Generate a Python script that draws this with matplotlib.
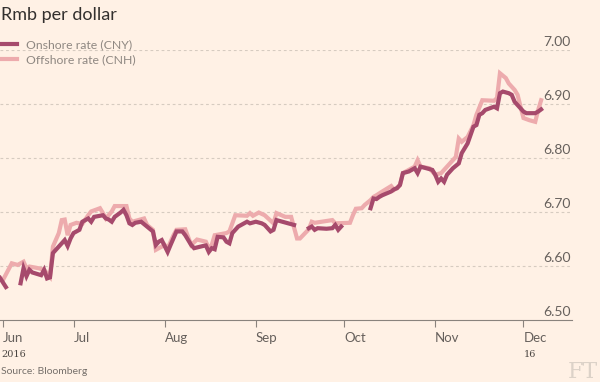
import numpy as np
import pandas as pd
import matplotlib
matplotlib.use("Agg")
import matplotlib.pyplot as plt
import matplotlib.transforms as mtransforms

nan = np.nan

cny_dates = [
    "2016-06-06", "2016-06-08", "2016-06-10", "2016-06-13", "2016-06-14", "2016-06-15",
    "2016-06-16", "2016-06-17", "2016-06-20", "2016-06-21", "2016-06-22", "2016-06-23",
    "2016-06-24", "2016-06-27", "2016-06-28", "2016-06-29", "2016-06-30", "2016-07-01",
    "2016-07-03", "2016-07-04", "2016-07-06", "2016-07-07", "2016-07-08", "2016-07-11",
    "2016-07-12", "2016-07-13", "2016-07-14", "2016-07-15", "2016-07-17", "2016-07-18",
    "2016-07-19", "2016-07-20", "2016-07-21", "2016-07-22", "2016-07-24", "2016-07-26",
    "2016-07-28", "2016-07-29", "2016-07-30", "2016-07-31", "2016-08-02", "2016-08-03",
    "2016-08-05", "2016-08-07", "2016-08-08", "2016-08-10", "2016-08-11", "2016-08-14",
    "2016-08-15", "2016-08-16", "2016-08-17", "2016-08-18", "2016-08-19", "2016-08-21",
    "2016-08-22", "2016-08-23", "2016-08-24", "2016-08-26", "2016-08-29", "2016-08-30",
    "2016-09-01", "2016-09-03", "2016-09-04", "2016-09-06", "2016-09-07", "2016-09-08",
    "2016-09-10", "2016-09-12", "2016-09-14", "2016-09-16", "2016-09-19", "2016-09-20",
    "2016-09-21", "2016-09-22", "2016-09-25", "2016-09-27", "2016-09-28", "2016-09-29",
    "2016-09-30", "2016-10-05", "2016-10-10", "2016-10-11", "2016-10-12", "2016-10-13",
    "2016-10-14", "2016-10-17", "2016-10-18", "2016-10-19", "2016-10-20", "2016-10-21",
    "2016-10-23", "2016-10-25", "2016-10-26", "2016-10-27", "2016-10-29", "2016-10-31",
    "2016-11-01", "2016-11-02", "2016-11-03", "2016-11-04", "2016-11-05", "2016-11-07",
    "2016-11-09", "2016-11-10", "2016-11-12", "2016-11-14", "2016-11-15", "2016-11-16",
    "2016-11-17", "2016-11-18", "2016-11-21", "2016-11-22", "2016-11-23", "2016-11-24",
    "2016-11-26", "2016-11-27", "2016-11-28", "2016-11-30", "2016-12-01", "2016-12-02",
    "2016-12-05", "2016-12-06", "2016-12-07",
]
cny_rate = [
    6.578, 6.561, nan, 6.568, 6.596, 6.581,
    6.593, 6.588, 6.583, 6.593, 6.577, 6.579,
    6.624, 6.642, 6.648, 6.637, 6.651, 6.661,
    6.667, 6.682, 6.688, 6.682, 6.691, 6.694,
    6.688, 6.686, 6.682, 6.691, 6.699, 6.704,
    6.694, 6.679, 6.676, 6.680, 6.682, 6.673,
    6.664, 6.639, 6.645, 6.648, 6.626, 6.639,
    6.664, 6.664, 6.657, 6.639, 6.633, 6.637,
    6.638, 6.626, 6.633, 6.631, 6.654, 6.653,
    6.645, 6.642, 6.661, 6.673, 6.682, 6.679,
    6.682, 6.679, 6.676, 6.664, 6.667, 6.685,
    6.682, 6.679, 6.676, nan, 6.670, 6.673,
    6.667, 6.670, 6.669, 6.670, 6.676, 6.667,
    6.673, nan, 6.707, 6.725, 6.724, 6.728,
    6.731, 6.738, 6.742, 6.744, 6.750, 6.772,
    6.775, 6.781, 6.772, 6.784, 6.781, 6.778,
    6.769, 6.756, 6.762, 6.756, 6.769, 6.781,
    6.790, 6.809, 6.827, 6.858, 6.861, 6.880,
    6.883, 6.889, 6.895, 6.892, 6.920, 6.923,
    6.920, 6.917, 6.904, 6.892, 6.886, 6.883,
    6.883, 6.886, 6.890,
]

cnh_dates = [
    "2016-06-06", "2016-06-07", "2016-06-10", "2016-06-12", "2016-06-14", "2016-06-15",
    "2016-06-16", "2016-06-19", "2016-06-21", "2016-06-23", "2016-06-24", "2016-06-26",
    "2016-06-27", "2016-06-28", "2016-06-29", "2016-06-30", "2016-07-02", "2016-07-04",
    "2016-07-06", "2016-07-07", "2016-07-10", "2016-07-11", "2016-07-12", "2016-07-14",
    "2016-07-15", "2016-07-19", "2016-07-20", "2016-07-21", "2016-07-25", "2016-07-26",
    "2016-07-28", "2016-07-29", "2016-08-01", "2016-08-02", "2016-08-04", "2016-08-05",
    "2016-08-08", "2016-08-10", "2016-08-12", "2016-08-15", "2016-08-16", "2016-08-17",
    "2016-08-18", "2016-08-22", "2016-08-23", "2016-08-24", "2016-08-25", "2016-08-29",
    "2016-08-30", "2016-08-31", "2016-09-02", "2016-09-04", "2016-09-07", "2016-09-08",
    "2016-09-11", "2016-09-13", "2016-09-15", "2016-09-16", "2016-09-19", "2016-09-20",
    "2016-09-21", "2016-09-27", "2016-09-28", "2016-10-03", "2016-10-04", "2016-10-05",
    "2016-10-07", "2016-10-08", "2016-10-10", "2016-10-11", "2016-10-12", "2016-10-14",
    "2016-10-17", "2016-10-18", "2016-10-19", "2016-10-20", "2016-10-21", "2016-10-23",
    "2016-10-25", "2016-10-26", "2016-10-27", "2016-10-30", "2016-10-31", "2016-11-01",
    "2016-11-03", "2016-11-04", "2016-11-07", "2016-11-08", "2016-11-09", "2016-11-10",
    "2016-11-12", "2016-11-14", "2016-11-15", "2016-11-17", "2016-11-21", "2016-11-22",
    "2016-11-23", "2016-11-25", "2016-11-26", "2016-11-28", "2016-11-29", "2016-11-30",
    "2016-12-01", "2016-12-03", "2016-12-05", "2016-12-06", "2016-12-07",
]
cnh_rate = [
    6.577, 6.574, 6.605, 6.602, 6.608, 6.596,
    6.599, 6.596, 6.593, 6.580, 6.636, 6.661,
    6.685, 6.686, 6.657, 6.676, 6.680, 6.678,
    6.694, 6.701, 6.707, 6.698, 6.688, 6.701,
    6.711, 6.711, 6.688, 6.682, 6.688, 6.676,
    6.667, 6.630, 6.639, 6.633, 6.657, 6.667,
    6.668, 6.639, 6.649, 6.645, 6.633, 6.639,
    6.657, 6.661, 6.664, 6.679, 6.694, 6.693,
    6.698, 6.693, 6.699, 6.694, 6.679, 6.698,
    6.691, 6.691, 6.651, 6.651, 6.668, 6.682,
    6.680, 6.685, 6.679, 6.680, 6.694, 6.706,
    6.707, 6.713, 6.722, 6.728, 6.731, 6.738,
    6.748, 6.741, 6.745, 6.750, 6.772, 6.778,
    6.784, 6.796, 6.784, 6.781, 6.775, 6.769,
    6.772, 6.778, 6.796, 6.802, 6.836, 6.830,
    6.839, 6.861, 6.880, 6.907, 6.906, 6.911,
    6.957, 6.948, 6.938, 6.926, 6.917, 6.895,
    6.874, 6.870, 6.867, 6.889, 6.907,
]

tick_dates = ["2016-06-07", "2016-07-01", "2016-08-01", "2016-09-01",
              "2016-10-01", "2016-11-01", "2016-12-01"]
tick_labels = ["Jun", "Jul", "Aug", "Sep", "Oct", "Nov", "Dec"]
y_ticks = [6.50, 6.60, 6.70, 6.80, 6.90, 7.00]

bg = "#fff1e5"
dark = "#a64a6c"
light = "#edabad"
grey = "#66605c"

plt.rcParams["font.family"] = ["Lato", "DejaVu Sans"]

fig = plt.figure(figsize=(6, 3.82), dpi=100, facecolor=bg)
ax = fig.add_axes([0.0, 1 - 320 / 382, 572 / 600, 270 / 382])
ax.set_facecolor(bg)

cny = pd.Series(cny_rate, index=pd.to_datetime(cny_dates))
cnh = pd.Series(cnh_rate, index=pd.to_datetime(cnh_dates))

ax.plot(cnh.index, cnh.values, color=light, lw=3.0, solid_joinstyle="miter",
        label="Offshore rate (CNH)", zorder=3)
ax.plot(cny.index, cny.values, color=dark, lw=3.0, solid_joinstyle="miter",
        label="Onshore rate (CNY)", zorder=4)

ax.set_xlim(pd.Timestamp("2016-06-06"), pd.Timestamp("2016-12-17 12:00"))
ax.set_ylim(6.50, 7.00)

for s in ["top", "right", "left"]:
    ax.spines[s].set_visible(False)
ax.spines["bottom"].set_color("#8a837d")
ax.spines["bottom"].set_linewidth(0.8)

ax.set_yticks(y_ticks)
ax.tick_params(axis="y", left=False, labelleft=False)
for v in y_ticks[1:]:
    ax.axhline(v, color="#d6cbc0", lw=0.8, ls=(0, (2.5, 2.5)), zorder=1)
ytrans = mtransforms.blended_transform_factory(ax.transAxes, ax.transData)
for v in y_ticks:
    ax.text(0.997, v + 0.004, f"{v:.2f}", transform=ytrans, ha="right", va="bottom",
            fontsize=10, color=grey)

ax.set_xticks(pd.to_datetime(tick_dates))
ax.set_xticklabels(tick_labels, ha="left")
ax.tick_params(axis="x", direction="out", length=5, width=0.8, color="#8a837d",
               labelsize=9.5, labelcolor=grey, pad=4)
for lab in ax.get_xticklabels():
    lab.set_horizontalalignment("left")

xtrans = mtransforms.blended_transform_factory(ax.transData, ax.transAxes)
ax.text(pd.Timestamp("2016-06-06 12:00"), -0.112, "2016", transform=xtrans,
        fontsize=7, color="#4a4541", family=["DejaVu Serif"], va="top")
ax.text(pd.Timestamp("2016-12-01"), -0.112, "16", transform=xtrans,
        fontsize=7, color="#4a4541", family=["DejaVu Serif"], va="top")

handles, labels = ax.get_legend_handles_labels()
leg = ax.legend(handles[::-1], labels[::-1], loc="upper left",
                bbox_to_anchor=(-0.012, 1 - 34 / 382), bbox_transform=fig.transFigure,
                frameon=False, fontsize=8.8, handlelength=1.55, handletextpad=0.75,
                labelspacing=0.35, borderaxespad=0)
for t in leg.get_texts():
    t.set_color("#8f8882")

fig.text(0.002, 1 - 15 / 382, "Rmb per dollar", fontsize=13, color="#33302e",
         ha="left", va="center")
fig.text(0.002, 1 - 372 / 382, "Source: Bloomberg", fontsize=7.5, color="#76706b",
         ha="left", va="center")
fig.text(0.997, 1 - 372 / 382, "FT", fontsize=16, color="#dcd2c8",
         family=["DejaVu Serif"], ha="right", va="center")

fig.savefig("out.png", dpi=100, facecolor=bg)
